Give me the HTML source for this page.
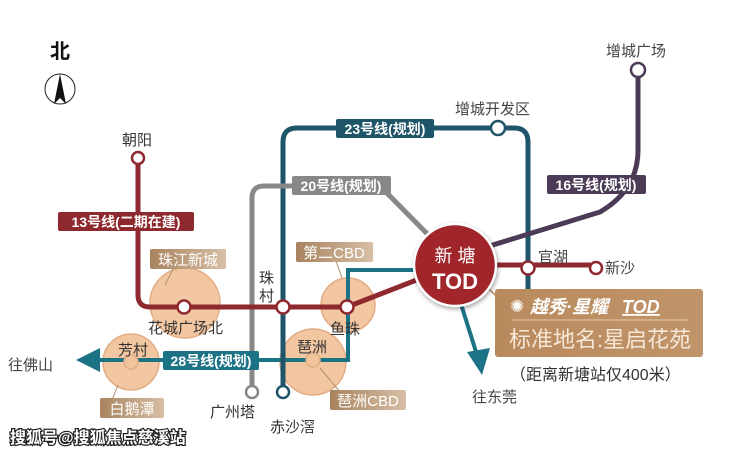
<!DOCTYPE html>
<html><head><meta charset="utf-8"><style>
html,body{margin:0;padding:0;background:#fff;}
svg{display:block;}
text{font-family:"Liberation Sans","Noto Sans CJK SC",sans-serif;}
</style></head><body>
<svg width="740" height="453" viewBox="0 0 740 453" xmlns="http://www.w3.org/2000/svg">
<defs>
<linearGradient id="tag" x1="0" x2="1"><stop offset="0" stop-color="#a9835f"/><stop offset="1" stop-color="#d7bfa5"/></linearGradient>
<linearGradient id="box" x1="0" x2="1"><stop offset="0" stop-color="#b98a5d"/><stop offset="1" stop-color="#c0946a"/></linearGradient>
</defs>
<rect width="740" height="453" fill="#fff"/>
<text x="50" y="58" font-size="20" font-weight="bold" fill="#111">北</text>
<circle cx="60" cy="89" r="15" fill="none" stroke="#222" stroke-width="1"/>
<polygon points="60,74 54,104 60,98 66,104" fill="#111"/>
<g fill="#f2c49b" stroke="#e2a980" stroke-width="1.5" opacity="0.95">
<circle cx="185" cy="303" r="35"/>
<circle cx="348" cy="305" r="27"/>
<circle cx="313" cy="362" r="33"/>
<circle cx="131" cy="362" r="28"/>
</g>
<polyline points="440,270 348,270 348,360 100,360" fill="none" stroke="#1d7386" stroke-width="4"/>
<polygon points="76,360 100,348 100,372" fill="#1d7386"/>
<path d="M283,392 V142 Q283,128 297,128 H514 Q528,128 528,142 V300" fill="none" stroke="#1f5569" stroke-width="5"/>
<path d="M252,392 V198 Q252,186 264,186 H380 L455,262" fill="none" stroke="#888" stroke-width="5"/>
<path d="M638,70 V150 Q638,190 600,212 L470,252" fill="none" stroke="#4c3b56" stroke-width="5"/>
<path d="M138,158 V295 Q138,307 150,307 H347 L455,265 H596" fill="none" stroke="#8e2a2f" stroke-width="5"/>
<line x1="455" y1="285" x2="477" y2="355" stroke="#1d7386" stroke-width="4"/>
<polygon points="482,375 467,352 490,348" fill="#1d7386"/>
<g fill="#fff" stroke-width="2.5">
<circle cx="138" cy="158" r="6" stroke="#8e2a2f"/>
<circle cx="184" cy="307" r="6.5" stroke="#8e2a2f"/>
<circle cx="283" cy="307" r="6.5" stroke="#8e2a2f"/>
<circle cx="347" cy="307" r="6.5" stroke="#8e2a2f"/>
<circle cx="528" cy="268" r="6.5" stroke="#8e2a2f"/>
<circle cx="596" cy="268" r="6" stroke="#8e2a2f"/>
<circle cx="498" cy="128" r="7" stroke="#1f5569"/>
<circle cx="638" cy="70" r="7" stroke="#4c3b56"/>
<circle cx="252" cy="392" r="6" stroke="#888"/>
<circle cx="283" cy="392" r="6" stroke="#1f5569"/>
</g>
<circle cx="313" cy="360" r="7" fill="#f2c49b" stroke="#ddb08a" stroke-width="1.5"/>
<circle cx="131" cy="362" r="7" fill="#f2c49b" stroke="#ddb08a" stroke-width="1.5"/>
<rect x="58" y="212" width="136" height="19" rx="2" fill="#8e2a2f"/>
<text x="126" y="227" font-size="14" font-weight="bold" fill="#fff" text-anchor="middle">13号线(二期在建)</text>
<rect x="336" y="119" width="98" height="19" rx="2" fill="#1f5569"/>
<text x="385" y="134" font-size="14" font-weight="bold" fill="#fff" text-anchor="middle">23号线(规划)</text>
<rect x="292" y="176" width="99" height="19" rx="2" fill="#888"/>
<text x="341" y="191" font-size="14" font-weight="bold" fill="#fff" text-anchor="middle">20号线(规划)</text>
<rect x="547" y="175" width="99" height="19" rx="2" fill="#4c3b56"/>
<text x="596" y="190" font-size="14" font-weight="bold" fill="#fff" text-anchor="middle">16号线(规划)</text>
<rect x="163" y="351" width="96" height="19" rx="2" fill="#1d7386"/>
<text x="211" y="366" font-size="14" font-weight="bold" fill="#fff" text-anchor="middle">28号线(规划)</text>
<line x1="175" y1="265" x2="165" y2="285" stroke="#b08f72" stroke-width="1"/>
<rect x="150" y="249" width="76" height="20" rx="2" fill="url(#tag)"/>
<text x="188" y="265" font-size="15" fill="#fff" text-anchor="middle">珠江新城</text>
<line x1="335" y1="258" x2="342" y2="278" stroke="#b08f72" stroke-width="1"/>
<rect x="296" y="242" width="77" height="20" rx="2" fill="url(#tag)"/>
<text x="334" y="258" font-size="15" fill="#fff" text-anchor="middle">第二CBD</text>
<line x1="320" y1="368" x2="340" y2="392" stroke="#b08f72" stroke-width="1"/>
<rect x="330" y="390" width="76" height="20" rx="2" fill="url(#tag)"/>
<text x="368" y="406" font-size="15" fill="#fff" text-anchor="middle">琶洲CBD</text>
<line x1="118" y1="385" x2="112" y2="400" stroke="#b08f72" stroke-width="1"/>
<rect x="100" y="398" width="64" height="20" rx="2" fill="url(#tag)"/>
<text x="132" y="414" font-size="15" fill="#fff" text-anchor="middle">白鹅潭</text>
<g font-size="15" fill="#333">
<text x="122" y="145">朝阳</text>
<text x="148" y="333">花城广场北</text>
<text x="259" y="283">珠</text>
<text x="259" y="301">村</text>
<text x="330" y="334">鱼珠</text>
<text x="297" y="352">琶洲</text>
<text x="118" y="355">芳村</text>
<text x="8" y="370" fill="#444">往佛山</text>
<text x="210" y="417">广州塔</text>
<text x="270" y="432">赤沙滘</text>
<text x="455" y="114" fill="#444">增城开发区</text>
<text x="606" y="56" fill="#444">增城广场</text>
<text x="538" y="262" fill="#444">官湖</text>
<text x="605" y="273" fill="#444">新沙</text>
<text x="472" y="402" fill="#444">往东莞</text>
</g>
<line x1="478" y1="278" x2="500" y2="300" stroke="#b98a5d" stroke-width="1.5"/>
<rect x="495" y="289" width="208" height="68" rx="3" fill="url(#box)"/>
<text x="510" y="312" font-size="17" fill="#fff">✺</text>
<text x="530" y="313" font-size="18" font-weight="bold" fill="#fff" font-style="italic">越秀·星耀</text>
<text x="622" y="313" font-size="18" font-weight="bold" fill="#fff" font-style="italic" text-decoration="underline">TOD</text>
<line x1="512" y1="320" x2="688" y2="320" stroke="#f0dcc6" stroke-width="0.8"/>
<text x="509" y="347" font-size="22" fill="#f6e8d8">标准地名:星启花苑</text>
<text x="510" y="380" font-size="16" fill="#333">（距离新塘站仅400米）</text>
<circle cx="455" cy="265" r="41" fill="#a1262c" stroke="#fff" stroke-width="2.5" style="filter:drop-shadow(1px 2px 2px rgba(0,0,0,.35))"/>
<text x="455" y="262" font-size="18" fill="#fff" text-anchor="middle">新 塘</text>
<text x="455" y="289" font-size="22" font-weight="bold" fill="#fff" text-anchor="middle">TOD</text>
<text x="10" y="443" font-size="16" font-weight="bold" fill="#fff" stroke="#222" stroke-width="2.5" paint-order="stroke">搜狐号@搜狐焦点慈溪站</text>
</svg>
</body></html>
